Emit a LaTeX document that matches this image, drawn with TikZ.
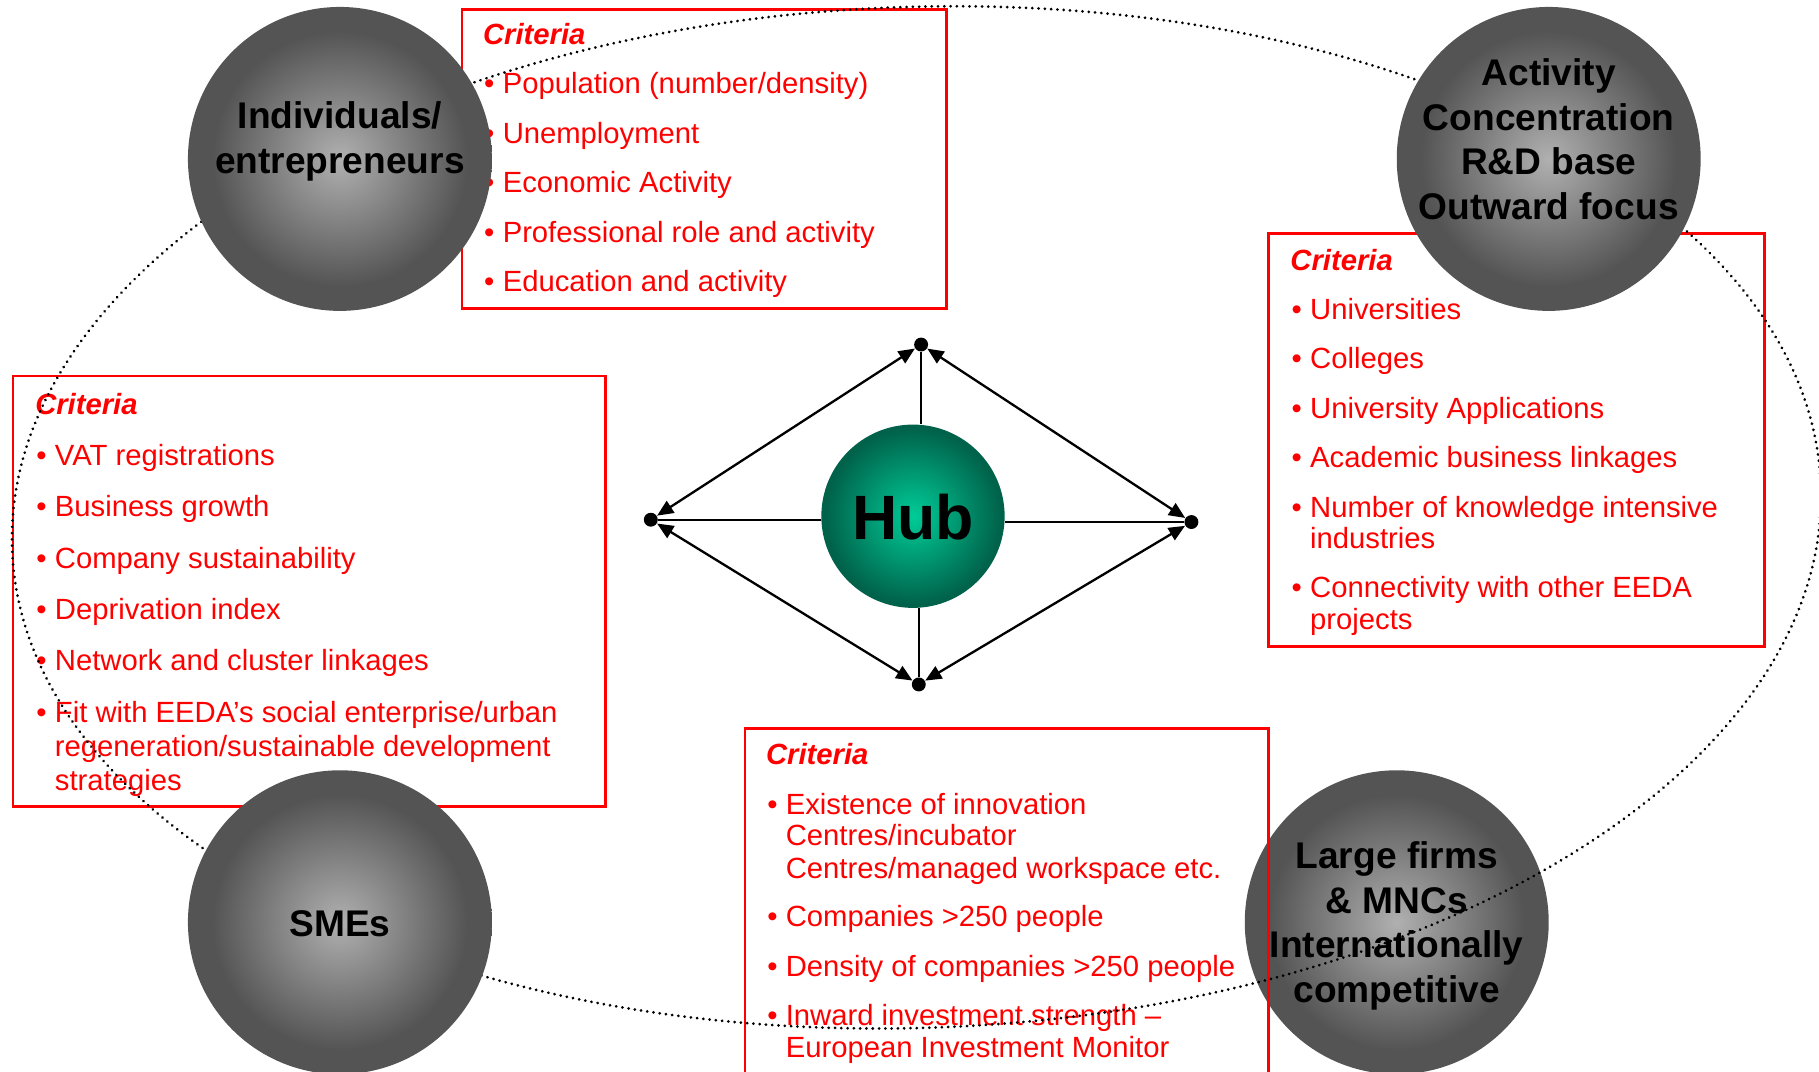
\documentclass[tikz,border=0pt]{standalone}
\usepackage{fontspec}
\setmainfont{Liberation Sans}
\usetikzlibrary{arrows.meta}
\definecolor{critred}{HTML}{FF0000}
\definecolor{sphin}{HTML}{B0B0B0}
\definecolor{sphout}{HTML}{545454}
\definecolor{hubin}{HTML}{00CC98}
\definecolor{hubout}{HTML}{00624A}
\pgfdeclareradialshading{sphereshade}{\pgfpoint{0bp}{0bp}}{color(0bp)=(sphin); color(21bp)=(sphout); color(25bp)=(sphout); color(50bp)=(sphout)}
\pgfdeclareradialshading{hubshade}{\pgfpoint{0bp}{0bp}}{color(0bp)=(hubin); color(24bp)=(hubout); color(25bp)=(hubout); color(50bp)=(hubout)}
\newcommand{\critbullet}{\makebox[8pt][l]{•}}
\begin{document}
\begin{tikzpicture}[x=0.5pt,y=-0.5pt,
  sphere/.style={circle, inner sep=0pt, minimum size=131pt, shading=sphereshade},
  spheretext/.style={align=center, inner sep=0pt, font=\bfseries\fontsize{16pt}{19.2pt}\selectfont},
  hubnode/.style={circle, inner sep=0pt, minimum size=79pt, shading=hubshade},
  critbox/.style={draw=critred, line width=1.2pt, anchor=north west, inner sep=0pt},
  crit/.style={anchor=base west, inner sep=0pt, text=critred, font=\fontsize{12.6pt}{14pt}\selectfont},
  crithead/.style={crit, font=\bfseries\itshape\fontsize{12.6pt}{14pt}\selectfont},
  vdot/.style={circle, fill=black, inner sep=0pt, minimum size=6pt},
  diam/.style={line width=1pt, {Triangle[length=7pt,width=6pt]}-{Triangle[length=7pt,width=6pt]}},
  spoke/.style={line width=1pt},
  dotline/.style={line width=1.3pt, line cap=round, dash pattern=on 0.01pt off 2.7pt}
]
\path[use as bounding box] (0,0) rectangle (1568,924);
\clip (0,0) rectangle (1568,924);

% Large firms sphere (under the boxes and the ellipse)
\node[sphere] (large) at (1204,795) {};
\node[spheretext] (largetext) at (1204,798) {Large firms\\\& MNCs\\Internationally\\competitive};

% Criteria boxes
\node[critbox, minimum width=209pt, minimum height=129pt] (boxtop) at (397,7) {};
\node[critbox, minimum width=255.5pt, minimum height=185.5pt] (boxleft) at (10,323) {};
\node[critbox, minimum width=214pt, minimum height=178pt] (boxright) at (1092,200) {};
\node[critbox, minimum width=225.5pt, minimum height=160pt] (boxbottom) at (641,627) {};

% top box text
\node[crithead] (th) at (416,38) {Criteria};
\node[crit] (t1) at (417,81) {\critbullet Population (number/density)};
\node[crit] (t2) at (417,124) {\critbullet Unemployment};
\node[crit] (t3) at (417,166) {\critbullet Economic Activity};
\node[crit] (t4) at (417,209) {\critbullet Professional role and activity};
\node[crit] (t5) at (417,251) {\critbullet Education and activity};

% left box text
\node[crithead] (lh) at (30,357) {Criteria};
\node[crit] (l1) at (31,401) {\critbullet VAT registrations};
\node[crit] (l2) at (31,445) {\critbullet Business growth};
\node[crit] (l3) at (31,490) {\critbullet Company sustainability};
\node[crit] (l4) at (31,534) {\critbullet Deprivation index};
\node[crit] (l5) at (31,578) {\critbullet Network and cluster linkages};
\node[crit] (l6) at (31,623) {\critbullet Fit with EEDA’s social enterprise/urban};
\node[crit] (l6b) at (47,652) {regeneration/sustainable development};
\node[crit] (l6c) at (47,681) {strategies};

% right box text
\node[crithead] (rh) at (1112,233) {Criteria};
\node[crit] (r1) at (1113,275) {\critbullet Universities};
\node[crit] (r2) at (1113,318) {\critbullet Colleges};
\node[crit] (r3) at (1113,361) {\critbullet University Applications};
\node[crit] (r4) at (1113,403) {\critbullet Academic business linkages};
\node[crit] (r5) at (1113,446) {\critbullet Number of knowledge intensive};
\node[crit] (r5b) at (1129,473) {industries};
\node[crit] (r6) at (1113,515) {\critbullet Connectivity with other EEDA};
\node[crit] (r6b) at (1129,543) {projects};

% bottom box text
\node[crithead] (bh) at (660,659) {Criteria};
\node[crit] (b1) at (661,702) {\critbullet Existence of innovation};
\node[crit] (b1b) at (677,729) {Centres/incubator};
\node[crit] (b1c) at (677,757) {Centres/managed workspace etc.};
\node[crit] (b2) at (661,799) {\critbullet Companies >250 people};
\node[crit] (b3) at (661,842) {\critbullet Density of companies >250 people};
\node[crit] (b4) at (661,884) {\critbullet Inward investment strength –};
\node[crit] (b4b) at (677,912) {European Investment Monitor};

% dotted ellipse
\draw[dotline, rotate around={2:(790,446)}] (790,446) ellipse [x radius=390pt, y radius=220pt];

% other spheres
\node[sphere] (indiv) at (293,137) {};
\node[spheretext] (indivtext) at (293,122) {Individuals/\\entrepreneurs};
\node[sphere] (activity) at (1335,137) {};
\node[spheretext] (activitytext) at (1335,120) {Activity\\Concentration\\R\&D base\\Outward focus};
\node[sphere] (smes) at (293,795) {};
\node[spheretext] (smestext) at (293,796) {SMEs};

% hub
\node[hubnode] (hub) at (787,445) {};
\node[inner sep=0pt, font=\bfseries\fontsize{27pt}{30pt}\selectfont] (hubtext) at (787,446) {Hub};
\node[vdot] (vt) at (794,297) {};
\node[vdot] (vl) at (561,448) {};
\node[vdot] (vr) at (1027,450) {};
\node[vdot] (vb) at (792,590) {};
\draw[spoke] (vt) -- (vt |- hub.north);
\draw[spoke] (vl) -- (vl -| hub.west);
\draw[spoke] (vr) -- (vr -| hub.east);
\draw[spoke] (vb) -- (vb |- hub.south);
\draw[diam] (vl) -- (vt);
\draw[diam] (vt) -- (vr);
\draw[diam] (vl) -- (vb);
\draw[diam] (vb) -- (vr);
\end{tikzpicture}
\end{document}
